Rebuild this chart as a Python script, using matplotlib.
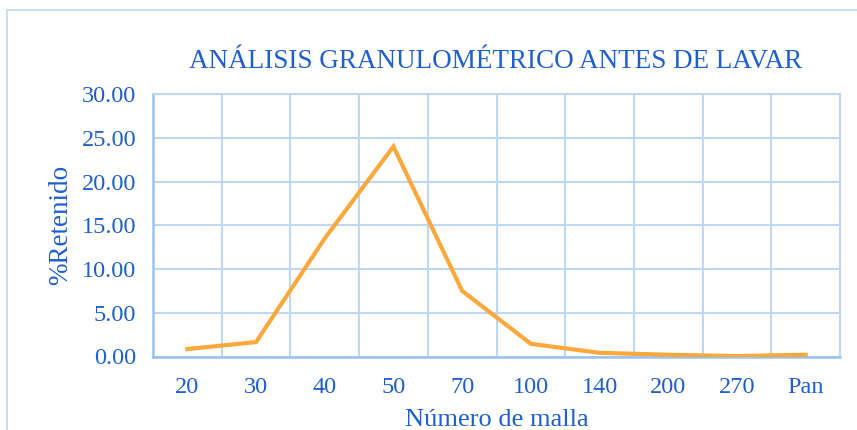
import matplotlib
matplotlib.use("Agg")
import matplotlib.pyplot as plt
from matplotlib.patches import Rectangle

mallas = ["20", "30", "40", "50", "70", "100", "140", "200", "270", "Pan"]
retenido = [0.85, 1.65, 13.5, 24.0, 7.5, 1.45, 0.42, 0.2, 0.05, 0.2]
y_ticks = [0, 5, 10, 15, 20, 25, 30]

text_blue = "#1F5FCC"
grid_blue = "#BDD7F5"
axis_blue = "#9CC3F0"
line_orange = "#FBA83C"

plt.rcParams["font.family"] = ["Liberation Serif", "DejaVu Serif"]

fig = plt.figure(figsize=(8.57, 4.30), dpi=100)
fig.patches.append(Rectangle((7 / 857, -0.05), 1.2, 1.05 - 10 / 430,
                             transform=fig.transFigure, fill=False,
                             edgecolor=grid_blue, linewidth=1.2))

ax = fig.add_axes([153 / 857, 1 - 356.5 / 430, (840 - 153) / 857, (356.5 - 94) / 430])
x = list(range(len(mallas)))
ax.plot(x, retenido, color=line_orange, linewidth=3, solid_joinstyle="miter", zorder=3)

ax.set_xlim(-0.5, len(mallas) - 0.5)
ax.set_ylim(0, 30)
ax.set_yticks(y_ticks)
ax.set_yticklabels([f"{v:.2f}" for v in y_ticks])
ax.set_xticks(x)
ax.set_xticklabels(mallas)
ax.set_xticks([i + 0.5 for i in x[:-1]], minor=True)

ax.grid(True, which="minor", axis="x", color=grid_blue, linewidth=1.5)
ax.grid(True, which="major", axis="y", color=grid_blue, linewidth=1.5)
for s in ["top", "right"]:
    ax.spines[s].set_color(grid_blue)
    ax.spines[s].set_linewidth(1.5)
for s in ["left", "bottom"]:
    ax.spines[s].set_color(axis_blue)
    ax.spines[s].set_linewidth(1.8)

ax.tick_params(axis="both", which="both", length=0, colors=text_blue, labelsize=17.5)
ax.tick_params(axis="x", pad=15)
ax.tick_params(axis="y", pad=12)

ax.set_xlabel("Número de malla", color=text_blue, fontsize=19, labelpad=8)
ax.set_ylabel("%Retenido", color=text_blue, fontsize=19.5, labelpad=6)
fig.text(0.578, 1 - 62 / 430, "ANÁLISIS GRANULOMÉTRICO ANTES DE LAVAR",
         color=text_blue, fontsize=19.5, ha="center", va="center")

fig.savefig("out.png", dpi=100)
